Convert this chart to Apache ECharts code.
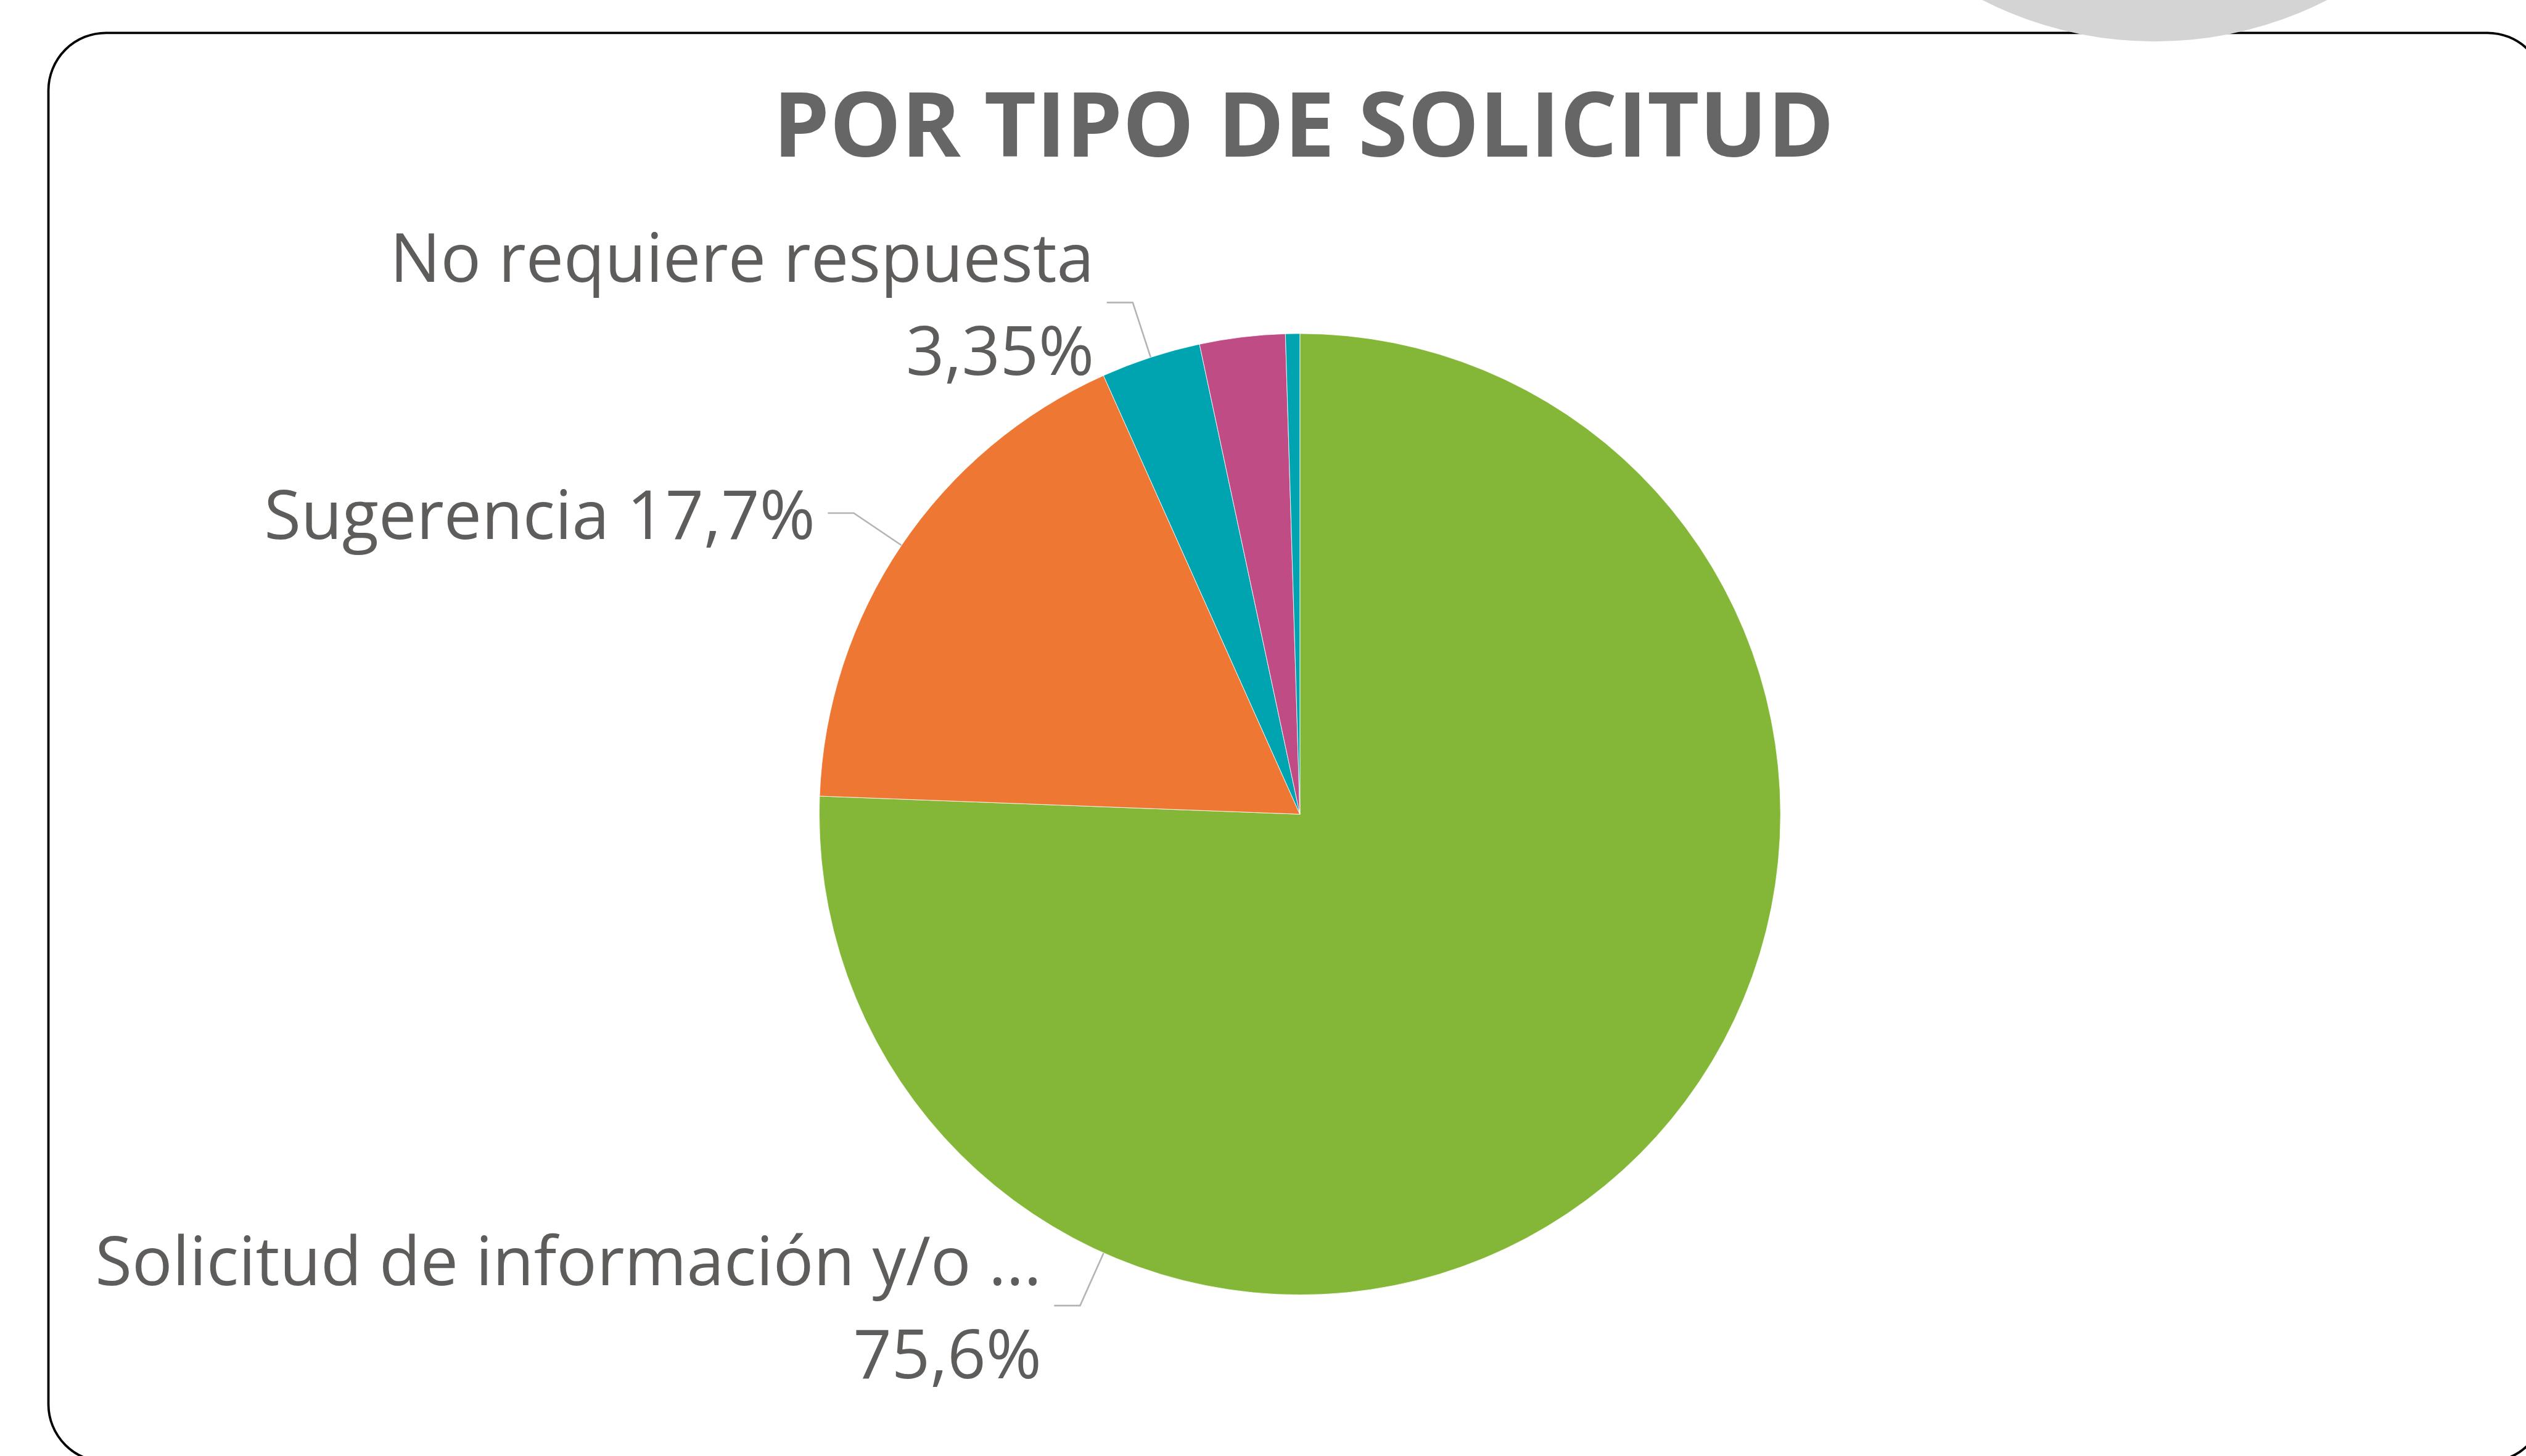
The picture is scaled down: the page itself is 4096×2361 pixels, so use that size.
<!DOCTYPE html>
<html>
<head>
<meta charset="utf-8">
<script src="https://cdn.jsdelivr.net/npm/echarts@6/dist/echarts.min.js"></script>
<style>
html,body{margin:0;padding:0;background:#fff;}
#chart{width:4096px;height:2361px;}
</style>
</head>
<body>
<div id="chart"></div>
<script>
// ---- data ----
const titleText = 'POR TIPO DE SOLICITUD';
const categories = ['Solicitud de información y/o ...', 'Sugerencia', 'No requiere respuesta', 'Queja', 'Reclamo'];
const values = [75.6, 17.7, 3.35, 2.87, 0.48];
const labelled = [true, true, true, false, false];
const lineBreak = ['\n', ' ', '\n', '', ''];
const colors = ['#84B737', '#EE7733', '#00A4B0', '#BF4C84', '#00A4B0'];

// ---- layout (scaled 0.9347 from reference) ----
const S = 4096 / 4382;
const CX = 2255 * S, CY = 1412.5 * S, R = 833.8 * S;
const LINE_LEN = 100 * S, LINE_LEN2 = 45 * S, LABEL_GAP = 22 * S;
const LABEL_DY = 11;           // text sits slightly below its leader line
const BIG_LABEL_ANGLE = 204.1; // degrees clockwise from 12 o'clock where the first label's leader line sits

const fmt = v => String(v).replace('.', ',') + '%';

const data = categories.map((name, i) => ({
  name: name,
  value: values[i],
  itemStyle: { color: colors[i] },
  label: { show: labelled[i] },
  labelLine: { show: labelled[i] }
}));

const chart = echarts.init(document.getElementById('chart'), null, { renderer: 'canvas' });

chart.setOption({
  backgroundColor: '#ffffff',
  animation: false,
  title: {
    text: titleText,
    left: 2256 * S,
    top: 144 * S,
    textAlign: 'center',
    textStyle: {
      fontFamily: 'Open Sans',
      fontWeight: 'bold',
      fontSize: 146,
      color: '#666666'
    }
  },
  graphic: [
    {
      type: 'rect',
      z: 0,
      shape: { x: 84 * S, y: 57 * S, width: (4415 - 84) * S, height: (2536 - 57) * S, r: 100 * S },
      style: { fill: 'none', stroke: '#000000', lineWidth: 3.8 }
    },
    {
      type: 'circle',
      z: 100,
      shape: { cx: 3738 * S, cy: -586 * S, r: 658 * S },
      style: { fill: '#D4D4D4' }
    }
  ],
  series: [{
    type: 'pie',
    center: [CX, CY],
    radius: [0, R],
    startAngle: 90,
    clockwise: true,
    avoidLabelOverlap: false,
    itemStyle: { borderColor: '#ffffff', borderWidth: 0.8 },
    label: {
      position: 'outside',
      fontFamily: 'Open Sans',
      fontSize: 109,
      lineHeight: 151,
      color: '#5F5D5B',
      overflow: 'none',
      distanceToLabelLine: LABEL_GAP,
      formatter: p => labelled[p.dataIndex] ? p.name + lineBreak[p.dataIndex] + fmt(values[p.dataIndex]) : ''
    },
    labelLine: {
      length: LINE_LEN,
      length2: LINE_LEN2,
      lineStyle: { color: '#B4B4B4', width: 2.6 }
    },
    labelLayout: function (params) {
      if (params.dataIndex !== 0) {
        if (!params.labelLinePoints) return {};
        return {
          y: params.labelRect.y + params.labelRect.height / 2 + LABEL_DY,
          labelLinePoints: params.labelLinePoints
        };
      }
      const a = BIG_LABEL_ANGLE * Math.PI / 180;
      const dx = Math.sin(a), dy = -Math.cos(a);
      const p1 = [CX + R * dx, CY + R * dy];
      const p2 = [CX + (R + LINE_LEN) * dx, CY + (R + LINE_LEN) * dy];
      const p3 = [p2[0] - LINE_LEN2, p2[1]];
      return {
        x: p3[0] - LABEL_GAP,
        y: p3[1] + LABEL_DY,
        align: 'right',
        verticalAlign: 'middle',
        labelLinePoints: [p1, p2, p3]
      };
    },
    data: data
  }]
});
</script>
</body>
</html>
